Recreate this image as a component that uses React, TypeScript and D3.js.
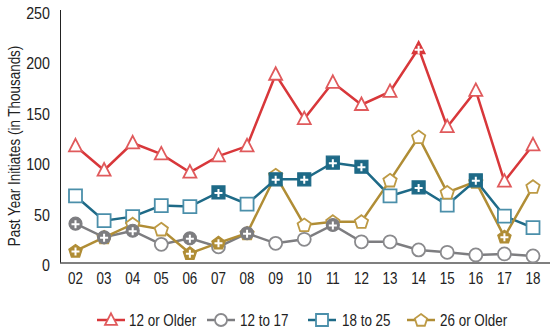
import React from "react";
import * as d3 from "d3";

const years = ["02","03","04","05","06","07","08","09","10","11","12","13","14","15","16","17","18"];
const older12 = [116, 92, 119, 108, 90, 106, 116, 187, 143, 179, 157, 170, 213, 135, 171, 81, 117];
const age12to17 = [39, 25.5, 32, 18.5, 24.5, 16, 29.5, 19.5, 23.5, 37.7, 21, 21, 13, 10.6, 8, 9, 7];
const age18to25 = [66.5, 42, 46, 57, 56, 70, 58.5, 83, 83, 99.5, 95.5, 66.5, 75, 57.5, 82, 46.6, 35];
const older26 = [12, 25.5, 38.5, 33.4, 9.6, 20, 29.5, 87, 37.7, 41, 41, 82, 125, 70, 80.7, 26, 75.7];
const sig12 = [0,0,0,0,0,0,0,0,0,0,0,0,1,0,0,0,0];
const sig1217 = [1,1,1,0,1,0,1,0,0,1,0,0,0,0,0,0,0];
const sig1825 = [0,0,0,0,0,1,0,1,1,1,1,0,1,0,1,0,0];
const sig26 = [1,0,0,0,1,1,0,0,0,0,0,0,0,0,0,1,0];
const yTicks = [0, 50, 100, 150, 200, 250];
const seriesNames = ["12 or Older", "12 to 17", "18 to 25", "26 or Older"];

type Shape = "tri" | "circle" | "square" | "pent";
const series = [
  { name: seriesNames[0], values: older12, sig: sig12, color: "#d8373a", light: "#e05a5c", shape: "tri" as Shape },
  { name: seriesNames[1], values: age12to17, sig: sig1217, color: "#7d7d80", light: "#8a8a8d", shape: "circle" as Shape },
  { name: seriesNames[2], values: age18to25, sig: sig1825, color: "#1e6a87", light: "#4b8faa", shape: "square" as Shape },
  { name: seriesNames[3], values: older26, sig: sig26, color: "#b08d35", light: "#bd9a45", shape: "pent" as Shape },
];

const FONT = "'Liberation Sans', Arial, sans-serif";
const SX = 0.84;

function CText({ x, y, rotate = 0, size, anchor = "start", children }: any) {
  return (
    <text
      transform={`translate(${x},${y}) rotate(${rotate}) scale(${SX},1)`}
      textAnchor={anchor}
      fontFamily={FONT}
      fontSize={size}
      fill="#222"
    >
      {children}
    </text>
  );
}

function markerPath(shape: Shape, s: number): string {
  if (shape === "tri") {
    const h = s * 0.9;
    return `M0,${-h * 0.62}L${s / 2},${h * 0.45}L${-s / 2},${h * 0.45}Z`;
  }
  if (shape === "square") {
    const a = s / 2;
    return `M${-a},${-a}L${a},${-a}L${a},${a}L${-a},${a}Z`;
  }
  if (shape === "pent") {
    const r = s / 2 + 0.5;
    const pts = d3.range(5).map((i) => {
      const ang = -Math.PI / 2 + (i * 2 * Math.PI) / 5;
      return [r * Math.cos(ang), r * Math.sin(ang) + 0.5];
    });
    return "M" + pts.map((p) => p.join(",")).join("L") + "Z";
  }
  const r = s / 2;
  return `M${r},0A${r},${r} 0 1,1 ${-r},0A${r},${r} 0 1,1 ${r},0Z`;
}

function Marker({ shape, x, y, filled, color, light, size = 13 }: any) {
  return (
    <g transform={`translate(${x},${y})`}>
      <path
        d={markerPath(shape, size)}
        fill={filled ? color : "#fff"}
        stroke={filled ? color : light}
        strokeWidth={filled ? 1.2 : 1.8}
        strokeLinejoin="miter"
      />
      {filled ? (
        <path d="M-4,0.5H4M0,-3.5V4.5" stroke="#fff" strokeWidth={2} transform={shape === "tri" ? "translate(0,1)" : ""} />
      ) : null}
    </g>
  );
}

export default function App() {
  const W = 556, H = 335;
  const x = d3.scalePoint<string>().domain(years).range([75.5, 533]);
  const y = d3.scaleLinear().domain([0, 250]).range([263, 11]);
  const line = d3.line<number>().x((_, i) => x(years[i])!).y((v) => y(v));

  const legendItems = [
    { lx: 97, tx: 129 },
    { lx: 207, tx: 240 },
    { lx: 308, tx: 342 },
    { lx: 407, tx: 440 },
  ];

  return (
    <svg width={W} height={H} style={{ position: "absolute", left: 0, top: 0, background: "#fff" }}>
      {/* axes */}
      <line x1={60.5} x2={60.5} y1={10} y2={263} stroke="#222" strokeWidth={1} />
      <line x1={60} x2={550} y1={263} y2={263} stroke="#555" strokeWidth={1.5} />
      {yTicks.map((t) => (
        <CText key={t} x={50} y={y(t) + 8} size={17} anchor="end">
          {t}
        </CText>
      ))}
      {years.map((yr) => (
        <CText key={yr} x={x(yr)} y={284} size={16} anchor="middle">
          {yr}
        </CText>
      ))}
      <CText x={20} y={146} rotate={-90} size={16} anchor="middle">
        Past Year Initiates (in Thousands)
      </CText>

      {/* lines */}
      {series.map((s) => (
        <path key={s.name} d={line(s.values)!} fill="none" stroke={s.color} strokeWidth={2.5} />
      ))}
      {/* hollow markers */}
      {series.map((s) =>
        s.values.map((v, i) =>
          s.sig[i] ? null : (
            <Marker key={s.name + i} shape={s.shape} x={x(years[i])} y={y(v)} filled={false} color={s.color} light={s.light} />
          )
        )
      )}
      {/* filled markers */}
      {series.map((s) =>
        s.values.map((v, i) =>
          s.sig[i] ? (
            <Marker key={s.name + "f" + i} shape={s.shape} x={x(years[i])} y={y(v)} filled={true} color={s.color} light={s.light} />
          ) : null
        )
      )}

      {/* legend */}
      {series.map((s, i) => {
        const it = legendItems[i];
        const cy = 320;
        return (
          <g key={s.name}>
            <line x1={it.lx} x2={it.lx + 28} y1={cy} y2={cy} stroke={s.color} strokeWidth={2.5} />
            <Marker shape={s.shape} x={it.lx + 14} y={cy} filled={false} color={s.color} light={s.light} size={12} />
            <CText x={it.tx} y={cy + 6} size={16}>
              {s.name}
            </CText>
          </g>
        );
      })}
    </svg>
  );
}
